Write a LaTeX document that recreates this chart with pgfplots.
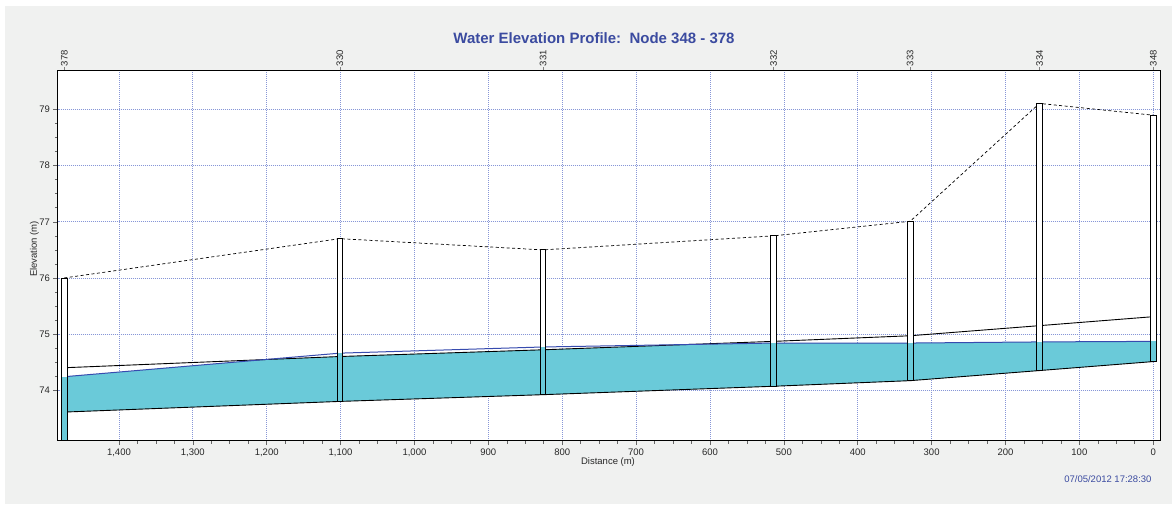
\documentclass[border=0pt]{standalone}
\usepackage{fontspec}
\setmainfont{Liberation Sans}
\usepackage{pgfplots}
\pgfplotsset{compat=1.18}

\definecolor{panel}{RGB}{240,241,240}
\definecolor{water}{RGB}{106,202,217}
\definecolor{gridblue}{RGB}{135,150,215}
\definecolor{titleblue}{RGB}{59,75,160}
\definecolor{hgl}{RGB}{55,75,175}
\definecolor{ticktext}{RGB}{40,40,40}

\begin{document}
\begin{tikzpicture}[x=1pt,y=1pt]
\fill[white] (0,0) rectangle (1176,504);
\fill[panel] (5,0) rectangle (1172,498);

\pgfplotsset{
  prof/.style={
    scale only axis,
    width=1102.3pt, height=370.4pt,
    at={(58pt,63.3pt)}, anchor=south west,
    xmin=-9.5, xmax=1482.5, x dir=reverse,
    ymin=73.1, ymax=79.7,
    tick align=outside,
    /pgf/number format/assume math mode=true,
    ticklabel style={font=\fontsize{9.5}{11}\selectfont, text=ticktext},
  }
}

% main profile axis
\begin{axis}[prof,
  axis background/.style={fill=white},
  axis line style={black, line width=1pt},
  xtick={0,100,...,1400}, minor x tick num=3,
  ytick={74,75,...,79}, minor y tick num=3,
  xtick pos=lower, ytick pos=left,
  major tick length=4.5pt, minor tick length=3pt,
  tick style={gray!80!black, line width=0.6pt},
  /pgf/number format/1000 sep={,},
  grid=major,
  major grid style={gridblue, dash pattern=on 0.8pt off 1.2pt, line width=0.7pt},
]
% water fill in conduits
\addplot[fill=water, draw=none] coordinates {
  (1474,74.24) (1202.8,74.545) (1101,74.60) (826,74.72) (630.6,74.81)
  (514,74.84) (329,74.84) (154,74.86) (0,74.87)
  (0,74.51) (154,74.35) (329,74.17) (514,74.07) (826,73.92) (1101,73.80) (1474,73.61)
} --cycle;
% conduit invert
\addplot[black, line width=0.9pt] coordinates {
  (1474,73.61) (1101,73.80) (826,73.92) (514,74.07) (329,74.17) (154,74.35) (0,74.51)};
% conduit crown
\addplot[black, line width=0.9pt] coordinates {
  (1474,74.40) (1101,74.60) (826,74.72) (514,74.87) (329,74.97) (154,75.15) (0,75.31)};
% hydraulic grade line
\addplot[hgl, line width=1pt] coordinates {
  (1474,74.24) (1101,74.66) (826,74.77) (514,74.84) (329,74.84) (154,74.86) (0,74.87)};
% ground surface
\addplot[black, dash pattern=on 3pt off 2.5pt, line width=0.7pt] coordinates {
  (1474,76.00) (1101,76.70) (826,76.50) (514,76.75) (329,77.01) (154,79.11) (0,78.90)};

% nodes: white shaft, water inside
\addplot[fill=white, draw=none] coordinates {(1477.8,73.10) (1470.2,73.10) (1470.2,76.00) (1477.8,76.00)} --cycle;
\addplot[fill=water, draw=none] coordinates {(1477.8,73.10) (1470.2,73.10) (1470.2,74.24) (1477.8,74.24)} --cycle;
\addplot[fill=white, draw=none] coordinates {(1104.8,73.80) (1097.2,73.80) (1097.2,76.70) (1104.8,76.70)} --cycle;
\addplot[fill=water, draw=none] coordinates {(1104.8,73.80) (1097.2,73.80) (1097.2,74.66) (1104.8,74.66)} --cycle;
\addplot[fill=white, draw=none] coordinates {(829.8,73.92) (822.2,73.92) (822.2,76.50) (829.8,76.50)} --cycle;
\addplot[fill=water, draw=none] coordinates {(829.8,73.92) (822.2,73.92) (822.2,74.77) (829.8,74.77)} --cycle;
\addplot[fill=white, draw=none] coordinates {(517.8,74.07) (510.2,74.07) (510.2,76.75) (517.8,76.75)} --cycle;
\addplot[fill=water, draw=none] coordinates {(517.8,74.07) (510.2,74.07) (510.2,74.84) (517.8,74.84)} --cycle;
\addplot[fill=white, draw=none] coordinates {(332.8,74.17) (325.2,74.17) (325.2,77.01) (332.8,77.01)} --cycle;
\addplot[fill=water, draw=none] coordinates {(332.8,74.17) (325.2,74.17) (325.2,74.84) (332.8,74.84)} --cycle;
\addplot[fill=white, draw=none] coordinates {(157.8,74.35) (150.2,74.35) (150.2,79.11) (157.8,79.11)} --cycle;
\addplot[fill=water, draw=none] coordinates {(157.8,74.35) (150.2,74.35) (150.2,74.86) (157.8,74.86)} --cycle;
\addplot[fill=white, draw=none] coordinates {(3.8,74.51) (-3.8,74.51) (-3.8,78.90) (3.8,78.90)} --cycle;
\addplot[fill=water, draw=none] coordinates {(3.8,74.51) (-3.8,74.51) (-3.8,74.87) (3.8,74.87)} --cycle;
% node outlines
\addplot[draw=black, line width=0.8pt] coordinates {(1477.8,73.10) (1470.2,73.10) (1470.2,76.00) (1477.8,76.00)} --cycle;
\addplot[draw=black, line width=0.8pt] coordinates {(1104.8,73.80) (1097.2,73.80) (1097.2,76.70) (1104.8,76.70)} --cycle;
\addplot[draw=black, line width=0.8pt] coordinates {(829.8,73.92) (822.2,73.92) (822.2,76.50) (829.8,76.50)} --cycle;
\addplot[draw=black, line width=0.8pt] coordinates {(517.8,74.07) (510.2,74.07) (510.2,76.75) (517.8,76.75)} --cycle;
\addplot[draw=black, line width=0.8pt] coordinates {(332.8,74.17) (325.2,74.17) (325.2,77.01) (332.8,77.01)} --cycle;
\addplot[draw=black, line width=0.8pt] coordinates {(157.8,74.35) (150.2,74.35) (150.2,79.11) (157.8,79.11)} --cycle;
\addplot[draw=black, line width=0.8pt] coordinates {(3.8,74.51) (-3.8,74.51) (-3.8,78.90) (3.8,78.90)} --cycle;
\end{axis}

% node names along the top
\begin{axis}[prof,
  hide y axis,
  axis x line*=top,
  axis line style={black, line width=1pt},
  xtick={1474,1101,826,514,329,154,0},
  xticklabels={378,330,331,332,333,334,348},
  xticklabel style={rotate=90, anchor=west, inner sep=1pt},
  major tick length=3pt,
  tick style={gray, line width=0.6pt},
]
\addplot[draw=none] coordinates {(0,74) (1474,74)};
\end{axis}

\node[font=\bfseries\fontsize{15}{18}\selectfont, text=titleblue] at (594,466) {Water Elevation Profile:\ \ Node 348 - 378};
\node[font=\fontsize{9.5}{11}\selectfont, text=ticktext] at (608,41.7) {Distance (m)};
\node[font=\fontsize{9.5}{11}\selectfont, text=ticktext, rotate=90] at (34.5,255) {Elevation (m)};
\node[font=\fontsize{9.5}{11}\selectfont, text=titleblue, anchor=east] at (1155,25.3) {07/05/2012 17:28:30};

\pgfresetboundingbox
\useasboundingbox (0,0) rectangle (1176,504);
\end{tikzpicture}
\end{document}
